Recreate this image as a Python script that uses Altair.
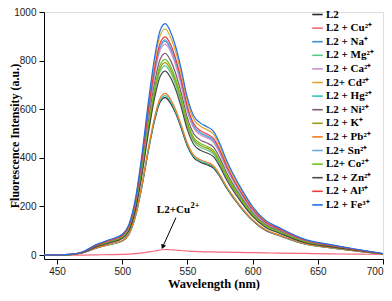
import altair as alt
import pandas as pd

wavelengths = [440, 460, 470, 480, 490, 500, 505, 510, 515, 520, 525, 529, 533, 537, 541,
               545, 550, 555, 560, 565, 570, 575, 580, 590, 600, 610, 620, 640, 660, 680, 700]

series_labels = ["L2", "L2 + Cu²⁺", "L2 + Na⁺", "L2 + Mg²⁺", "L2 + Ca²⁺", "L2+ Cd²⁺",
                 "L2 + Hg²⁺", "L2 + Ni²⁺", "L2 + K⁺", "L2 + Pb²⁺", "L2+ Sn²⁺", "L2+ Co²⁺",
                 "L2 + Zn²⁺", "L2 + Al³⁺", "L2 + Fe³⁺"]

series_colors = ["#2b2b2b", "#f4687a", "#3d8fd1", "#59c98a", "#c992c9", "#e0a526",
                 "#2ec4b6", "#7e5a78", "#9a9a16", "#f57c20", "#6ea8e0", "#6cc414",
                 "#4a4a4a", "#f03838", "#1e6fe6"]

L2 = [0, 2, 10, 29, 43, 58, 84, 156, 279, 428, 557, 629, 648, 625, 583, 526, 448, 400, 382, 372, 358, 322, 276, 202, 142, 101, 81, 46, 30, 16, 4]
Cu = [0, 0, 0, 1, 2, 3, 4, 6, 9, 13, 17, 21, 23, 22, 21, 19, 17, 15, 14, 13, 13, 12, 12, 11, 10, 9, 8, 7, 5, 4, 3]
Na = [0, 3, 13, 40, 58, 79, 114, 211, 378, 581, 757, 854, 880, 849, 792, 713, 598, 528, 502, 488, 471, 422, 361, 264, 185, 132, 106, 60, 40, 22, 5]
Mg = [0, 2, 12, 35, 51, 70, 101, 187, 335, 513, 669, 755, 778, 751, 700, 630, 529, 467, 443, 432, 416, 373, 319, 233, 163, 117, 93, 53, 35, 19, 5]
Ca = [0, 3, 13, 39, 57, 78, 113, 208, 373, 573, 746, 842, 868, 838, 781, 703, 590, 521, 495, 482, 464, 417, 356, 260, 182, 130, 104, 59, 39, 22, 5]
Cd = [0, 3, 14, 42, 61, 84, 121, 223, 400, 614, 800, 902, 930, 897, 837, 753, 632, 558, 530, 516, 498, 446, 381, 279, 195, 140, 112, 63, 42, 23, 6]
Hg = [0, 2, 10, 30, 43, 59, 85, 157, 282, 433, 564, 636, 656, 633, 590, 533, 454, 405, 387, 377, 363, 326, 279, 204, 144, 103, 82, 46, 30, 17, 4]
Ni = [0, 2, 12, 37, 55, 75, 108, 199, 357, 548, 714, 805, 830, 801, 747, 672, 564, 498, 473, 461, 444, 398, 340, 249, 174, 125, 100, 56, 37, 21, 5]
K = [0, 2, 12, 36, 52, 71, 103, 190, 341, 523, 681, 768, 792, 764, 713, 642, 539, 475, 451, 440, 424, 380, 325, 238, 166, 119, 95, 54, 36, 20, 5]
Pb = [0, 2, 10, 30, 44, 60, 86, 160, 286, 439, 572, 645, 665, 642, 598, 540, 460, 410, 392, 382, 368, 330, 283, 207, 146, 104, 83, 47, 31, 17, 4]
Sn = [0, 3, 13, 40, 58, 80, 115, 212, 381, 584, 761, 858, 885, 854, 797, 717, 602, 531, 504, 491, 473, 425, 363, 266, 186, 133, 106, 60, 40, 22, 5]
Co = [0, 2, 12, 36, 53, 72, 105, 193, 346, 531, 692, 781, 805, 777, 725, 652, 547, 483, 459, 447, 431, 386, 330, 242, 169, 121, 97, 55, 36, 20, 5]
Zn = [0, 2, 11, 34, 50, 68, 98, 182, 326, 500, 651, 734, 757, 731, 681, 613, 515, 454, 431, 420, 405, 363, 310, 227, 159, 114, 91, 51, 34, 19, 5]
Al = [0, 3, 13, 40, 59, 81, 117, 216, 386, 593, 772, 871, 898, 867, 808, 727, 611, 539, 512, 498, 480, 431, 368, 269, 189, 135, 108, 61, 40, 22, 5]
Fe = [0, 3, 14, 43, 63, 86, 124, 228, 409, 628, 819, 923, 952, 919, 857, 771, 647, 571, 543, 528, 509, 457, 390, 286, 200, 143, 114, 65, 43, 24, 6]

series_values = [L2, Cu, Na, Mg, Ca, Cd, Hg, Ni, K, Pb, Sn, Co, Zn, Al, Fe]

x_ticks = [450, 475, 500, 525, 550, 575, 600, 625, 650, 675, 700]
y_ticks = [0, 100, 200, 300, 400, 500, 600, 700, 800, 900, 1000]

annot_text = ["L2+Cu"]
annot_sup = ["2+"]
annot_x = [552]
annot_y = [187]
arrow_x = [541.2]
arrow_y = [154]
arrow_x2 = [531.3]
arrow_y2 = [37]

rows = []
for order, (lab, vals) in enumerate(zip(series_labels, series_values)):
    for w, v in zip(wavelengths, vals):
        rows.append({"wl": w, "val": v, "series": lab, "order": order})
df = pd.DataFrame(rows)

xscale = alt.Scale(domain=[440, 700], nice=False, zero=False)
yscale = alt.Scale(domain=[-16, 1000], nice=False, zero=False)

xaxis = alt.Axis(
    title="Wavelength (nm)", values=x_ticks, format="d",
    labelExpr="datum.value % 50 === 0 ? datum.label : ''",
    tickSize={"condition": {"test": "datum.value % 50 === 0", "value": 5}, "value": 3},
    grid=False, domainColor="black", tickColor="black",
    labelFont="Liberation Sans", labelFontSize=10, labelColor="#222", labelPadding=2,
    titleFont="Liberation Serif", titleFontWeight="bold", titleFontSize=12.5, titleColor="black",
    titleY=24, titleBaseline="middle",
)
yaxis = alt.Axis(
    title="Fluorescence Intensity (a.u.)", values=y_ticks, format="d",
    labelExpr="datum.value % 200 === 0 ? datum.label : ''",
    tickSize={"condition": {"test": "datum.value % 200 === 0", "value": 5}, "value": 3},
    grid=False, domainColor="black", tickColor="black",
    labelFont="Liberation Sans", labelFontSize=10, labelColor="#222", labelPadding=3,
    titleFont="Liberation Serif", titleFontWeight="bold", titleFontSize=12, titleColor="black",
    titleX=-30, titleBaseline="middle",
)

lines = alt.Chart(df).mark_line(strokeWidth=1.2, interpolate="monotone").encode(
    x=alt.X("wl:Q", scale=xscale, axis=xaxis),
    y=alt.Y("val:Q", scale=yscale, axis=yaxis),
    color=alt.Color("series:N", sort=series_labels,
                    scale=alt.Scale(domain=series_labels, range=series_colors),
                    legend=alt.Legend(
                        title=None, orient="none", legendX=267, legendY=-4,
                        symbolType="stroke", symbolSize=110, symbolStrokeWidth=1.6,
                        labelFont="Liberation Serif", labelFontWeight="bold",
                        labelFontSize=11, labelColor="black", labelOffset=2,
                        rowPadding=1.6, padding=0)),
    order="order:Q",
)

annot_df = pd.DataFrame({"t": annot_text, "s": annot_sup, "x": annot_x, "y": annot_y})
text_main = alt.Chart(annot_df).mark_text(
    font="Liberation Serif", fontWeight="bold", fontSize=11, align="right",
    baseline="middle", color="black").encode(
    x=alt.X("x:Q", scale=xscale), y=alt.Y("y:Q", scale=yscale), text="t:N")
text_sup = alt.Chart(annot_df).mark_text(
    font="Liberation Serif", fontWeight="bold", fontSize=8.5, align="left",
    baseline="middle", dx=0.5, dy=-5, color="black").encode(
    x=alt.X("x:Q", scale=xscale), y=alt.Y("y:Q", scale=yscale), text="s:N")

arrow_df = pd.DataFrame({"x": arrow_x, "y": arrow_y, "x2": arrow_x2, "y2": arrow_y2})
arrow_line = alt.Chart(arrow_df).mark_rule(color="black", strokeWidth=1).encode(
    x=alt.X("x:Q", scale=xscale), y=alt.Y("y:Q", scale=yscale),
    x2="x2:Q", y2="y2:Q")
arrow_head = alt.Chart(arrow_df).mark_point(
    shape="triangle", filled=True, color="black", size=28, angle=204, opacity=1).encode(
    x=alt.X("x2:Q", scale=xscale), y=alt.Y("y2:Q", scale=yscale))

chart = alt.layer(lines, arrow_line, arrow_head, text_main, text_sup).properties(
    width=339, height=247,
    autosize=alt.AutoSizeParams(type="none"),
    padding={"left": 36, "top": 4, "right": 1, "bottom": 33},
).configure_view(stroke="black", strokeWidth=1).configure(background="white")

chart.save("out.html", embed_options={"renderer": "svg", "actions": False})
